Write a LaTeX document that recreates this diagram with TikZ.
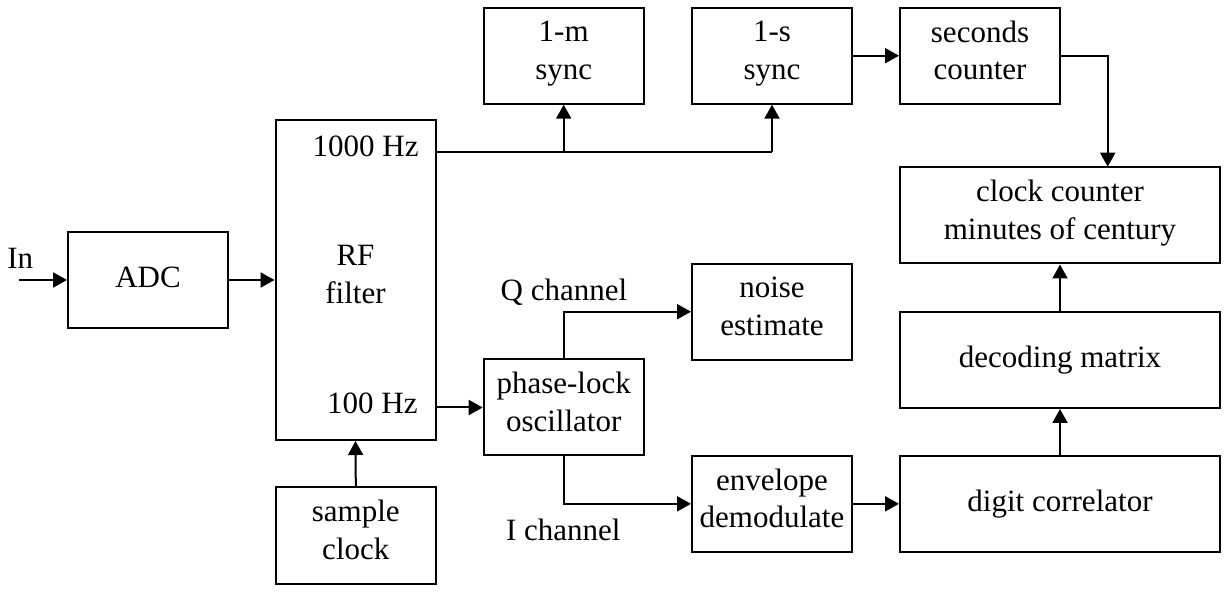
\documentclass[tikz,border=0pt]{standalone}
\usepackage{fontspec}
\setmainfont{Liberation Serif}
\usetikzlibrary{arrows.meta,calc}
\begin{document}
\begin{tikzpicture}[x=0.5pt,y=-0.5pt,
  every node/.style={font=\fontsize{15.5}{18.8}\selectfont},
  blk/.style={draw,line width=1pt,minimum width=80pt,minimum height=48pt,align=center,inner sep=0pt,
    execute at begin node={\strut},execute at end node={\strut}},
  wide/.style={blk,minimum width=160pt},
  lbl/.style={inner sep=0pt},
  conn/.style={line width=1pt,-{Triangle[length=7pt,width=7.5pt]}},
  plain/.style={line width=1pt}]
\useasboundingbox (0,0) rectangle (1225,592);
% boxes
\node[blk] (adc) at (148,280) {ADC};
\node[blk,minimum height=160pt] (rf) at (355.5,280) {RF\\filter};
\node[blk] (sample) at (355.8,535.5) {sample\\clock};
\node[blk] (m1) at (563.7,55.7) {1-m\\sync};
\node[blk] (s1) at (772,55.7) {1-s\\sync};
\node[blk] (sec) at (980,55.7) {seconds\\counter};
\node[wide] (clock) at (1060,215.5) {clock counter\\minutes of century};
\node[wide] (dec) at (1060,360) {decoding matrix};
\node[wide] (dig) at (1060,503.8) {digit correlator};
\node[blk] (noise) at (772,311.7) {noise\\estimate};
\node[blk] (pll) at (563.7,407.5) {phase-lock\\oscillator};
\node[blk] (env) at (772,503.8) {envelope\\demodulate};
% labels
\node[lbl,anchor=base east] (f1000) at (419,156.7) {1000 Hz};
\node[lbl,anchor=base east] (f100) at (418,413.3) {100 Hz};
\node[lbl,anchor=base] (in) at (20.3,268.3) {In};
\node[lbl,anchor=base] (qch) at (564,300.3) {Q channel};
\node[lbl,anchor=base] (ich) at (563.3,540) {I channel};
% coordinates
\coordinate (instart) at (19,280);
\coordinate (hz1000) at (435.7,151.7);
\coordinate (hz100) at (435.7,407.5);
\coordinate (brm) at (563.7,151.7);
\coordinate (brs) at (772,151.7);
\coordinate (seccorner) at (1107.7,55.7);
\coordinate (clktop) at (1107.7,166.7);
% connectors
\draw[conn] (instart) -- (adc.west);
\draw[conn] (adc.east) -- (rf.west |- adc.east);
\draw[plain] (hz1000) -- (brs);
\draw[conn] (brs) -- (s1.south);
\draw[conn] (brm) -- (m1.south);
\draw[conn] (sample.north) -- (rf.south);
\draw[conn] (hz100) -- (pll.west);
\draw[conn] (s1.east) -- (sec.west);
\draw[conn] (sec.east) -- (seccorner) -- (clktop);
\draw[conn] (pll.north) |- (noise.west);
\draw[conn] (pll.south) |- (env.west);
\draw[conn] (env.east) -- (dig.west);
\draw[conn] (dig.north) -- (dec.south);
\draw[conn] (dec.north) -- (clock.south);
\end{tikzpicture}
\end{document}
